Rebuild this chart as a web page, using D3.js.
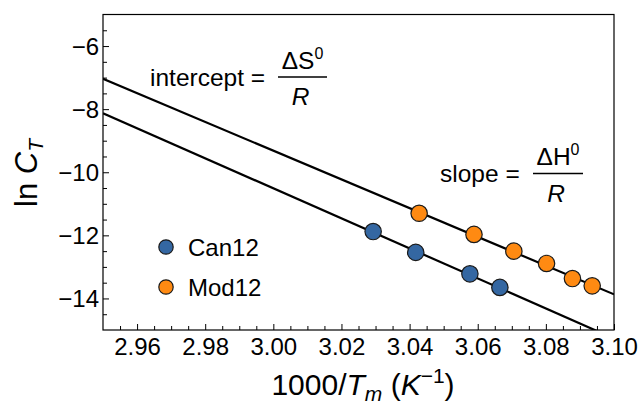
<!DOCTYPE html>
<html>
<head>
<meta charset="utf-8">
<script src="https://cdn.jsdelivr.net/npm/d3@7"></script>
<style>
  body { margin: 0; background: #fff; }
  text { font-family: "Liberation Sans", Arial, sans-serif; fill: #000; }
</style>
</head>
<body>
<script>
// data
var canX = [3.0293, 3.0418, 3.0577, 3.0665];
var canY = [-11.88, -12.54, -13.22, -13.65];
var modX = [3.0428, 3.0589, 3.0706, 3.0802, 3.0878, 3.0936];
var modY = [-11.30, -11.97, -12.50, -12.89, -13.37, -13.60];
// fit lines, given by their ends at the edges of the x range
var fitModEnds = [[2.95, -7.04], [3.10, -13.87]];
var fitCanEnds = [[2.95, -8.13], [3.10, -15.27]];
var xMajor = [2.96, 2.98, 3.00, 3.02, 3.04, 3.06, 3.08, 3.10];
var yMajor = [-14, -12, -10, -8, -6];
var seriesNames = ["Can12", "Mod12"];
var colors = ["#3467a2", "#ff8a12"];

// setup svg
var svgWidth = 640, svgHeight = 404;
var margin = {top: 14.5, right: 26, bottom: 74, left: 103};
var width = svgWidth - margin.left - margin.right;
var height = svgHeight - margin.top - margin.bottom;

var svg = d3.select("body").append("svg")
    .attr("width", svgWidth)
    .attr("height", svgHeight);
var chart = svg.append("g")
    .attr("transform", `translate(${margin.left},${margin.top})`);

// scales
var x = d3.scaleLinear().domain([2.95, 3.10]).range([0, width]);
var y = d3.scaleLinear().domain([-15, -5]).range([height, 0]);

// minor ticks every quarter of a major step
var xMinor = d3.range(2.955, 3.1001, 0.005).filter(v => Math.abs(Math.round(v * 50) - v * 50) > 1e-6);
var yMinor = d3.range(-14.5, -5.4, 0.5).filter(v => Math.abs(v / 2 - Math.round(v / 2)) > 1e-6);

// frame
chart.append("rect")
    .attr("width", width).attr("height", height)
    .attr("fill", "none").attr("stroke", "#000").attr("stroke-width", 1.2);

// axes
var fmtX = d3.format(".2f");
var fmtY = v => "\u2212" + Math.abs(v);

chart.append("g").attr("transform", `translate(0,${height})`)
    .call(d3.axisBottom(x).tickValues(xMinor).tickSize(-4).tickFormat(""))
    .call(g => g.select(".domain").remove());
chart.append("g").attr("transform", `translate(0,${height})`)
    .call(d3.axisBottom(x).tickValues(xMajor).tickSize(-6).tickPadding(6).tickFormat(fmtX))
    .call(g => g.select(".domain").remove())
    .call(g => g.selectAll("text").attr("font-size", 24).attr("font-family", "Liberation Sans").attr("dy", "0.78em"));

chart.append("g")
    .call(d3.axisLeft(y).tickValues(yMinor).tickSize(-4).tickFormat(""))
    .call(g => g.select(".domain").remove());
chart.append("g")
    .call(d3.axisLeft(y).tickValues(yMajor).tickSize(-6).tickPadding(4).tickFormat(fmtY))
    .call(g => g.select(".domain").remove())
    .call(g => g.selectAll("text").attr("font-size", 24).attr("font-family", "Liberation Sans").attr("dy", "0.35em"));

chart.selectAll(".tick line").attr("stroke", "#000").attr("stroke-width", 1);

// clip for the fit lines
svg.append("clipPath").attr("id", "plotClip")
  .append("rect").attr("width", width).attr("height", height);

var line = d3.line().x(d => x(d[0])).y(d => y(d[1]));
chart.append("g").attr("clip-path", "url(#plotClip)")
  .selectAll("path")
  .data([fitModEnds, fitCanEnds])
  .enter().append("path")
    .attr("d", line)
    .attr("fill", "none")
    .attr("stroke", "#000")
    .attr("stroke-width", 2.2);

// points
function drawPoints(xs, ys, color) {
  chart.append("g").selectAll("circle")
    .data(xs.map((v, i) => [v, ys[i]]))
    .enter().append("circle")
      .attr("cx", d => x(d[0]))
      .attr("cy", d => y(d[1]))
      .attr("r", 8.2)
      .attr("fill", color)
      .attr("stroke", "#1a1a1a")
      .attr("stroke-width", 1.2);
}
drawPoints(canX, canY, colors[0]);
drawPoints(modX, modY, colors[1]);

// legend
var legend = svg.append("g").attr("transform", "translate(166,247)");
seriesNames.forEach(function(name, i) {
  var row = legend.append("g").attr("transform", `translate(0,${i * 40})`);
  row.append("circle").attr("r", 7.2)
    .attr("fill", colors[i]).attr("stroke", "#1a1a1a").attr("stroke-width", 1.2);
  row.append("text").attr("x", 22).attr("y", 8.5)
    .attr("font-size", 24).text(name);
});

// annotations with fractions
function fraction(xText, yBase, label, top, lineX0, lineX1) {
  var g = svg.append("g");
  g.append("text").attr("x", xText).attr("y", yBase).attr("font-size", 24.5).text(label);
  var cx = (lineX0 + lineX1) / 2;
  var num = g.append("text").attr("x", cx).attr("y", yBase - 17).attr("text-anchor", "middle").attr("font-size", 24.5);
  num.append("tspan").text(top);
  num.append("tspan").attr("font-size", 16).attr("dy", -10).text("0");
  g.append("line").attr("x1", lineX0).attr("x2", lineX1)
    .attr("y1", yBase - 8.5).attr("y2", yBase - 8.5)
    .attr("stroke", "#000").attr("stroke-width", 1.6);
  g.append("text").attr("x", cx - 2).attr("y", yBase + 19.5).attr("text-anchor", "middle")
    .attr("font-size", 24.5).attr("font-style", "italic").text("R");
}
fraction(150, 85.5, "intercept =", "\u0394S", 278, 327);
fraction(440, 182, "slope =", "\u0394H", 533, 583);

// axis titles
var xt = svg.append("text").attr("x", 363).attr("y", 395).attr("text-anchor", "middle").attr("font-size", 30);
xt.append("tspan").text("1000/");
xt.append("tspan").attr("font-style", "italic").text("T");
xt.append("tspan").attr("font-style", "italic").attr("font-size", 21).attr("dy", 6).text("m");
xt.append("tspan").attr("dy", -6).text(" (");
xt.append("tspan").attr("font-style", "italic").text("K");
xt.append("tspan").attr("font-size", 21).attr("dy", -12).text("\u22121");
xt.append("tspan").attr("dy", 12).text(")");

var yt = svg.append("text").attr("transform", "translate(37,173) rotate(-90)")
    .attr("text-anchor", "middle").attr("font-size", 31);
yt.append("tspan").text("ln ");
yt.append("tspan").attr("font-style", "italic").text("C");
yt.append("tspan").attr("font-style", "italic").attr("font-size", 21).attr("dy", 6).text("T");
</script>
</body>
</html>
